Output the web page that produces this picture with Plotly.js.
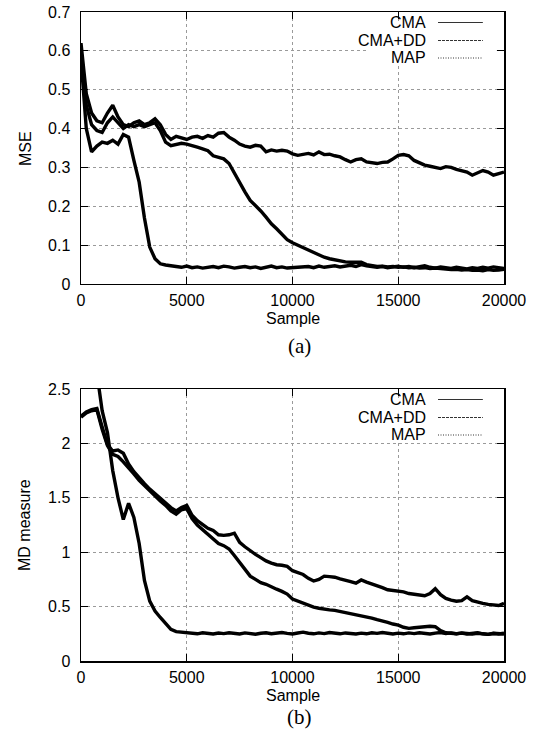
<!DOCTYPE html>
<html>
<head>
<meta charset="utf-8">
<script src="https://cdn.plot.ly/plotly-3.0.1.min.js"></script>
<style>html,body{margin:0;padding:0;background:#fff;}#chart{width:541px;height:733px;}</style>
</head>
<body>
<div id="chart"></div>
<script>
// Sample index (x axis), every 250 samples
const samples = [0,250,500,750,1000,1250,1500,1750,2000,2250,2500,2750,3000,3250,3500,3750,4000,4250,4500,4750,
5000,5250,5500,5750,6000,6250,6500,6750,7000,7250,7500,7750,8000,8250,8500,8750,9000,9250,9500,9750,
10000,10250,10500,10750,11000,11250,11500,11750,12000,12250,12500,12750,13000,13250,13500,13750,14000,14250,14500,14750,
15000,15250,15500,15750,16000,16250,16500,16750,17000,17250,17500,17750,18000,18250,18500,18750,19000,19250,19500,19750,
20000];

const seriesNames = ["CMA", "CMA+DD", "MAP"];

// (a) MSE
const mseCMA = [0.62,0.49,0.44,0.42,0.415,0.44,0.46,0.43,0.41,0.405,0.415,0.42,0.41,0.415,0.425,0.41,0.385,0.372,0.38,0.376,
0.372,0.378,0.38,0.375,0.382,0.378,0.388,0.39,0.378,0.37,0.36,0.355,0.352,0.357,0.355,0.34,0.345,0.342,0.344,0.342,
0.335,0.331,0.333,0.336,0.332,0.34,0.333,0.334,0.33,0.327,0.32,0.314,0.32,0.322,0.314,0.312,0.31,0.313,0.314,0.322,
0.331,0.333,0.33,0.318,0.312,0.306,0.303,0.3,0.297,0.302,0.3,0.295,0.292,0.288,0.28,0.286,0.292,0.288,0.28,0.284,
0.288];
const mseCMADD = [0.60,0.46,0.41,0.395,0.39,0.415,0.43,0.415,0.40,0.41,0.405,0.41,0.405,0.41,0.415,0.395,0.365,0.356,0.36,0.362,
0.36,0.357,0.352,0.348,0.343,0.33,0.326,0.322,0.31,0.285,0.262,0.237,0.215,0.202,0.188,0.172,0.155,0.142,0.128,0.114,
0.106,0.1,0.093,0.087,0.08,0.074,0.069,0.065,0.062,0.059,0.057,0.056,0.055,0.056,0.05,0.047,0.045,0.046,0.044,0.045,
0.043,0.044,0.042,0.043,0.041,0.042,0.04,0.041,0.039,0.038,0.037,0.038,0.036,0.037,0.035,0.036,0.034,0.037,0.035,0.036,
0.038];
const mseMAP = [0.58,0.40,0.34,0.355,0.365,0.362,0.37,0.36,0.385,0.378,0.318,0.262,0.17,0.095,0.065,0.052,0.049,0.048,
0.045,0.043,0.046,0.042,0.044,0.041,0.043,0.045,0.042,0.046,
0.044,0.041,0.043,0.045,0.042,0.044,0.04,0.043,0.046,0.042,
0.044,0.041,0.042,0.044,0.043,0.045,0.042,0.046,0.043,0.045,
0.047,0.044,0.046,0.048,0.045,0.05,0.047,0.045,0.043,0.045,
0.042,0.044,0.046,0.043,0.045,0.042,0.044,0.047,0.043,0.041,
0.044,0.042,0.04,0.043,0.041,0.039,0.042,0.04,0.043,0.041,
0.044,0.042,0.04];

// (b) MD measure
const mdCMA = [2.25,2.29,2.31,2.32,2.15,1.99,1.93,1.94,1.91,1.81,1.74,1.68,1.63,1.58,1.54,1.49,1.45,1.41,1.38,1.41,
1.43,1.34,1.29,1.25,1.22,1.2,1.16,1.155,1.16,1.175,1.09,1.05,1.01,0.98,0.95,0.92,0.9,0.885,0.88,0.87,
0.83,0.81,0.795,0.76,0.735,0.75,0.78,0.775,0.77,0.755,0.745,0.73,0.715,0.745,0.725,0.71,0.69,0.675,0.655,0.65,
0.645,0.635,0.62,0.615,0.61,0.6,0.62,0.665,0.61,0.575,0.56,0.55,0.555,0.59,0.555,0.54,0.53,0.52,0.515,0.51,
0.53];
const mdCMADD = [2.24,2.28,2.3,2.31,2.13,1.98,1.9,1.88,1.83,1.78,1.72,1.66,1.61,1.57,1.52,1.47,1.43,1.38,1.35,1.39,
1.4,1.31,1.25,1.21,1.16,1.13,1.08,1.06,1.03,0.97,0.91,0.84,0.78,0.75,0.72,0.705,0.68,0.66,0.64,0.615,
0.57,0.55,0.535,0.515,0.495,0.485,0.475,0.47,0.465,0.455,0.445,0.435,0.425,0.42,0.41,0.395,0.38,0.37,0.355,0.34,
0.33,0.31,0.3,0.305,0.31,0.315,0.32,0.315,0.28,0.26,0.255,0.25,0.258,0.252,0.248,0.255,0.25,0.245,0.252,0.248,
0.255];
const mdMAP = [null,null,null,2.65,2.3,2.1,1.75,1.5,1.3,1.45,1.32,1.08,0.74,0.55,0.46,0.4,0.34,0.29,0.27,0.265,0.26,
0.255,0.25,0.26,0.253,0.248,0.257,0.252,0.26,0.255,0.249,
0.258,0.252,0.246,0.255,0.26,0.251,0.256,0.262,0.254,0.249,
0.257,0.265,0.255,0.25,0.258,0.252,0.262,0.256,0.25,0.258,
0.254,0.248,0.256,0.25,0.26,0.254,0.262,0.255,0.248,0.256,
0.25,0.258,0.252,0.26,0.254,0.248,0.256,0.262,0.252,0.258,
0.25,0.256,0.248,0.255,0.26,0.25,0.245,0.255,0.25,0.248];

const FONT = "Liberation Sans, Arial, Helvetica, sans-serif";
const SERIF = "Liberation Serif, Times New Roman, serif";

function tr(y, name, xa, ya) {
  return {x: samples, y: y, name: name, xaxis: xa, yaxis: ya, type: 'scatter', mode: 'lines',
    line: {color: '#000', width: 3.4}, showlegend: false, hoverinfo: 'skip', connectgaps: false};
}

const data = [
  tr(mseCMA, seriesNames[0], 'x', 'y'),
  tr(mseCMADD, seriesNames[1], 'x', 'y'),
  tr(mseMAP, seriesNames[2], 'x', 'y'),
  tr(mdCMA, seriesNames[0], 'x2', 'y2'),
  tr(mdCMADD, seriesNames[1], 'x2', 'y2'),
  tr(mdMAP, seriesNames[2], 'x2', 'y2')
];

const axCommon = {
  showgrid: true, gridcolor: '#9a9a9a', griddash: 'dot', gridwidth: 1,
  showline: true, linecolor: '#000', linewidth: 1.5, mirror: 'ticks',
  ticks: 'inside', ticklen: 7, tickwidth: 1, tickcolor: '#000',
  tickfont: {family: FONT, size: 16, color: '#000'}, zeroline: false, fixedrange: true
};

const layout = {
  width: 541, height: 733,
  margin: {l: 81, r: 37, t: 12, b: 72},
  paper_bgcolor: '#fff', plot_bgcolor: '#fff',
  showlegend: false,
  xaxis: Object.assign({}, axCommon, {domain: [0, 1], anchor: 'y', range: [0, 20000], dtick: 5000, tick0: 0, tickformat: 'd', ticklabelstandoff: 1}),
  yaxis: Object.assign({}, axCommon, {domain: [0.5809, 1], anchor: 'x', range: [0, 0.7], dtick: 0.1, tick0: 0, ticklabelstandoff: 6}),
  xaxis2: Object.assign({}, axCommon, {domain: [0, 1], anchor: 'y2', range: [0, 20000], dtick: 5000, tick0: 0, tickformat: 'd', ticklabelstandoff: 1}),
  yaxis2: Object.assign({}, axCommon, {domain: [0, 0.4191], anchor: 'x2', range: [0, 2.5], dtick: 0.5, tick0: 0, ticklabelstandoff: 6}),
  annotations: [],
  shapes: []
};

const txt = (t, x, y, opts) => Object.assign({text: t, x: x, y: y, xref: 'paper', yref: 'paper', showarrow: false,
  xanchor: 'center', yanchor: 'middle', font: {family: FONT, size: 16, color: '#000'}}, opts || {});

layout.annotations.push(txt('MSE', -0.1324, 0.7904, {textangle: -90}));
layout.annotations.push(txt('MD measure', -0.1324, 0.2096, {textangle: -90}));
layout.annotations.push(txt('Sample', 0.501, 0.5285));
layout.annotations.push(txt('Sample', 0.501, -0.0524));
layout.annotations.push(txt('(a)', 0.5177, 0.4854, {font: {family: SERIF, size: 21, color: '#000'}}));
layout.annotations.push(txt('(b)', 0.5177, -0.0863, {font: {family: SERIF, size: 21, color: '#000'}}));

// gnuplot-style key (text then line sample) in each panel
const keyRows = [0.9614, 0.8952, 0.8309];
const keyDash = ['solid', '3px,1px', '1px,1.5px'];
[['x domain', 'y domain', 'x', 'y'], ['x2 domain', 'y2 domain', 'x2', 'y2']].forEach(function (r) {
  layout.shapes.push({type: 'rect', xref: r[0], yref: r[1], x0: 0.676, x1: 0.983, y0: 0.8088, y1: 0.9669,
    fillcolor: '#fff', line: {width: 0}, layer: 'above'});
  seriesNames.forEach(function (n, i) {
    layout.annotations.push({text: n, xref: r[2] + ' domain', yref: r[3] + ' domain', x: 0.8203, y: keyRows[i],
      xanchor: 'right', yanchor: 'middle', showarrow: false, font: {family: FONT, size: 16, color: '#000'}});
    layout.shapes.push({type: 'line', xref: r[0], yref: r[1], x0: 0.844, x1: 0.950, y0: keyRows[i], y1: keyRows[i],
      line: {color: '#333', width: 1.2, dash: keyDash[i]}, layer: 'above'});
  });
});

Plotly.newPlot('chart', data, layout, {staticPlot: true, displayModeBar: false});
</script>
</body>
</html>
